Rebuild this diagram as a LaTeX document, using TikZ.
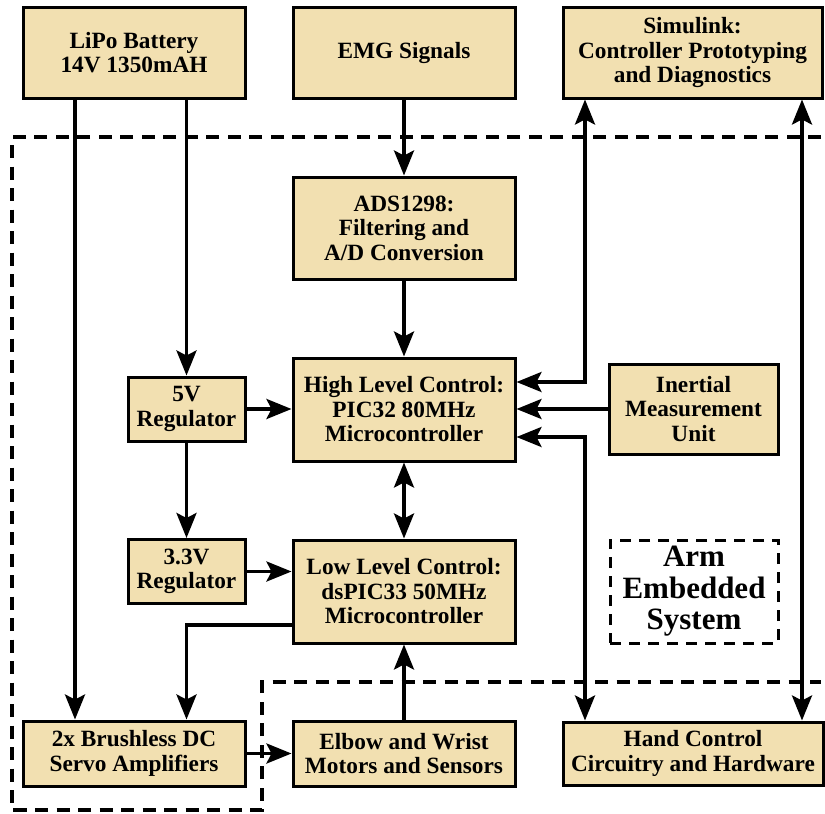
\documentclass[tikz,border=0pt]{standalone}
\usepackage{fontspec}
\setmainfont{Liberation Serif}
\usetikzlibrary{arrows.meta}
\definecolor{boxfill}{RGB}{242,224,177}
\tikzset{
  blk/.style={draw=black, line width=3pt, fill=boxfill, rectangle, inner sep=0pt, align=center,
    font=\fontsize{23.3}{24.5}\selectfont\bfseries},
  conn/.style={line width=3.5pt, -{Stealth[length=25pt,width=20pt,inset=5pt]}},
  dconn/.style={line width=3.5pt, {Stealth[length=25pt,width=20pt,inset=5pt]}-{Stealth[length=25pt,width=20pt,inset=5pt]}},
  bound/.style={line width=4pt, dash pattern=on 13pt off 8.5pt},
}
\begin{document}
\begin{tikzpicture}[x=1pt,y=-1pt]
\useasboundingbox (0,0) rectangle (825,814);
% boundary
\draw[bound] (821,137) -- (12,137) -- (12,810) -- (262,810) -- (262,682) -- (821,682);
% nodes
\node[blk, minimum width=222pt, minimum height=91pt] (lipo) at (134,52.5) {LiPo Battery\\14V 1350mAH};
\node[blk, minimum width=222pt, minimum height=91pt] (emg) at (404,52.5) {EMG Signals};
\node[blk, minimum width=259pt, minimum height=91pt] (sim) at (692.5,52.5) {Simulink:\\Controller Prototyping\\and Diagnostics};
\node[blk, minimum width=222pt, minimum height=102pt] (ads) at (404,228) {ADS1298:\\Filtering and\\A/D Conversion};
\node[blk, minimum width=222pt, minimum height=103pt] (high) at (404,409.5) {High Level Control:\\PIC32 80MHz\\Microcontroller};
\node[blk, minimum width=169pt, minimum height=90pt] (imu) at (693.5,409) {Inertial\\Measurement\\Unit};
\node[blk, minimum width=117pt, minimum height=64pt] (reg5) at (186.5,409) {5V\\Regulator};
\node[blk, minimum width=117pt, minimum height=64pt] (reg33) at (186.5,571.5) {3.3V\\Regulator};
\node[blk, minimum width=222pt, minimum height=103pt] (low) at (404,591.5) {Low Level Control:\\dsPIC33 50MHz\\Microcontroller};
\node[draw=black, line width=3pt, dash pattern=on 11pt off 8pt, rectangle, inner sep=0pt, align=center,
  minimum width=168pt, minimum height=103pt, font=\fontsize{31}{31.5}\selectfont\bfseries] (arm) at (694,591.5) {Arm\\Embedded\\System};
\node[blk, minimum width=222pt, minimum height=65pt] (amp) at (134,753.5) {2x Brushless DC\\Servo Amplifiers};
\node[blk, minimum width=222pt, minimum height=65pt] (elb) at (404,753.5) {Elbow and Wrist\\Motors and Sensors};
\node[blk, minimum width=260pt, minimum height=63pt] (hand) at (693,753.5) {Hand Control\\Circuitry and Hardware};
% helper coordinates
\coordinate (cA) at (75,0);
\coordinate (cD) at (585,0);
\coordinate (cE) at (802,0);
\coordinate (r382) at (0,382);
\coordinate (r437) at (0,437);
\coordinate (r625) at (0,625);
% connectors
\draw[conn] (lipo.south -| cA) -- (amp.north -| cA);
\draw[conn] (lipo.south -| reg5.north) -- (reg5.north);
\draw[conn] (reg5.south) -- (reg33.north);
\draw[conn] (reg5.east) -- (reg5.east -| high.west);
\draw[conn] (reg33.east) -- (reg33.east -| low.west);
\draw[conn] (r625 -| low.west) -| (amp.north -| reg33.south);
\draw[conn] (amp.east) -- (elb.west);
\draw[conn] (elb.north) -- (low.south);
\draw[dconn] (high.south) -- (low.north);
\draw[conn] (emg.south) -- (ads.north);
\draw[conn] (ads.south) -- (high.north);
\draw[dconn] (r382 -| high.east) -| (sim.south -| cD);
\draw[conn] (imu.west) -- (imu.west -| high.east);
\draw[dconn] (r437 -| high.east) -| (hand.north -| cD);
\draw[dconn] (sim.south -| cE) -- (hand.north -| cE);
\end{tikzpicture}
\end{document}
